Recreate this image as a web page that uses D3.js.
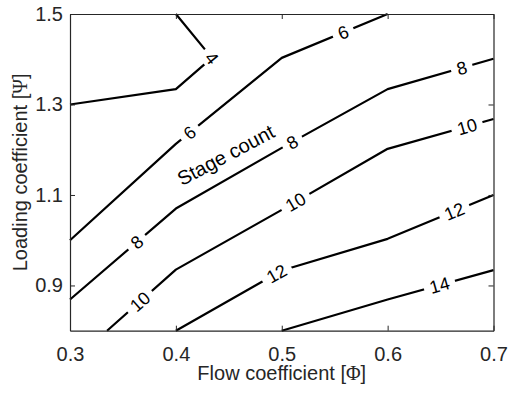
<!DOCTYPE html>
<html>
<head>
<meta charset="utf-8">
<script src="https://cdn.jsdelivr.net/npm/d3@7"></script>
<style>
  body { margin: 0; background: #fff; }
  svg text { font-family: "Liberation Sans", Arial, Helvetica, sans-serif; }
</style>
</head>
<body>
<svg id="chart" width="508" height="396"></svg>
<script>
// contour lines of stage count, [flow coefficient, loading coefficient]
const stage4  = [[0.4, 1.5], [0.434, 1.403], [0.4, 1.334], [0.3, 1.3]];
const stage6  = [[0.3, 1.0], [0.4, 1.213], [0.5, 1.403], [0.6, 1.5]];
const stage8  = [[0.3, 0.869], [0.4, 1.07], [0.5, 1.204], [0.6, 1.334], [0.7, 1.401]];
const stage10 = [[0.335, 0.8], [0.4, 0.935], [0.5, 1.067], [0.6, 1.202], [0.7, 1.268]];
const stage12 = [[0.4, 0.8], [0.5, 0.933], [0.6, 1.003], [0.7, 1.1]];
const stage14 = [[0.5, 0.8], [0.6, 0.869], [0.7, 0.934]];

const levels = [4, 6, 8, 10, 12, 14];
const contourLines = [stage4, stage6, stage8, stage10, stage12, stage14];
// flow coefficient where each inline label sits
const labelPhi = [[0.434], [0.413, 0.558], [0.363, 0.51, 0.67], [0.366, 0.513, 0.675], [0.495, 0.663], [0.649]];

const xTicks = [0.3, 0.4, 0.5, 0.6, 0.7];
const yTicks = [0.9, 1.1, 1.3, 1.5];

const lineColor = '#000';
const axisColor = '#262626';

const svg = d3.select("#chart");
const margin = { top: 14, right: 14.5, bottom: 65.3, left: 70 };
const width = +svg.attr("width") - margin.left - margin.right;
const height = +svg.attr("height") - margin.top - margin.bottom;
const g = svg.append("g").attr("transform", `translate(${margin.left},${margin.top})`);

const x = d3.scaleLinear().domain([0.3, 0.7]).range([0, width]);
const y = d3.scaleLinear().domain([0.8, 1.5]).range([height, 0]);

// mask that cuts the lines where the labels go
const mask = svg.append("defs").append("mask")
  .attr("id", "labelGaps")
  .attr("maskUnits", "userSpaceOnUse")
  .attr("x", -margin.left).attr("y", -margin.top)
  .attr("width", 508).attr("height", 396);
mask.append("rect")
  .attr("x", -margin.left).attr("y", -margin.top)
  .attr("width", 508).attr("height", 396)
  .attr("fill", "white");

const line = d3.line()
  .x(d => x(d[0]))
  .y(d => y(d[1]));

g.append("g")
  .attr("mask", "url(#labelGaps)")
  .selectAll("path")
  .data(contourLines)
  .enter()
  .append("path")
  .attr("fill", "none")
  .attr("stroke", lineColor)
  .attr("stroke-width", 2.2)
  .attr("stroke-linejoin", "round")
  .attr("d", line);

function pointAt(pts, phi) {
  for (let i = 0; i < pts.length - 1; i++) {
    const a = pts[i], b = pts[i + 1];
    const lo = Math.min(a[0], b[0]), hi = Math.max(a[0], b[0]);
    if (phi >= lo - 1e-9 && phi <= hi + 1e-9 && hi > lo) {
      const t = (phi - a[0]) / (b[0] - a[0]);
      const px = x(phi), py = y(a[1] + t * (b[1] - a[1]));
      let ang = Math.atan2(y(b[1]) - y(a[1]), x(b[0]) - x(a[0])) * 180 / Math.PI;
      if (ang > 90) ang -= 180;
      if (ang < -90) ang += 180;
      return { px, py, ang };
    }
  }
  return null;
}

const labels = [];
levels.forEach((lv, i) => {
  labelPhi[i].forEach(phi => {
    const p = pointAt(contourLines[i], phi);
    if (p) labels.push({ text: String(lv), ...p });
  });
});

const labelG = g.append("g");
labels.forEach(d => {
  const t = labelG.append("text")
    .attr("transform", `translate(${d.px},${d.py}) rotate(${d.ang})`)
    .attr("text-anchor", "middle")
    .attr("dy", "0.36em")
    .style("font-size", "18px")
    .style("fill", lineColor)
    .text(d.text);
  const w = t.node().getComputedTextLength();
  mask.append("rect")
    .attr("x", -w / 2 - 6).attr("y", -10)
    .attr("width", w + 12).attr("height", 20)
    .attr("transform", `translate(${d.px},${d.py}) rotate(${d.ang})`)
    .attr("fill", "black");
});

g.append("text")
  .attr("transform", `translate(${x(0.447)},${y(1.1885)}) rotate(-28)`)
  .attr("text-anchor", "middle")
  .attr("dy", "0.36em")
  .style("font-size", "20px")
  .style("fill", lineColor)
  .text("Stage count");

// axes, ticks pointing inward
const axisB = g.append("g")
  .attr("transform", `translate(0,${height})`)
  .call(d3.axisBottom(x).tickValues(xTicks).tickFormat(d3.format(".1f"))
    .tickSizeInner(-5).tickSizeOuter(0).tickPadding(16));
const axisL = g.append("g")
  .call(d3.axisLeft(y).tickValues(yTicks).tickFormat(d3.format(".1f"))
    .tickSizeInner(-5).tickSizeOuter(0).tickPadding(7));
const axisT = g.append("g")
  .call(d3.axisTop(x).tickValues(xTicks).tickFormat("")
    .tickSizeInner(-5).tickSizeOuter(0));
const axisR = g.append("g")
  .attr("transform", `translate(${width},0)`)
  .call(d3.axisRight(y).tickValues(yTicks).tickFormat("")
    .tickSizeInner(-5).tickSizeOuter(0));

[axisB, axisL, axisT, axisR].forEach(a => {
  a.select(".domain").attr("stroke", axisColor).attr("stroke-width", 1.2);
  a.selectAll(".tick line").attr("stroke", axisColor).attr("stroke-width", 1);
  a.selectAll("text")
    .style("font-size", "20px")
    .style("font-family", "'Liberation Sans', Arial, sans-serif")
    .attr("fill", axisColor);
});

const xLabel = g.append("text")
  .attr("x", width / 2)
  .attr("y", height + 49)
  .attr("text-anchor", "middle")
  .style("font-size", "20px")
  .style("fill", axisColor);
xLabel.append("tspan").text("Flow coefficient [");
xLabel.append("tspan").style("font-family", "'Liberation Serif', serif").text("Φ");
xLabel.append("tspan").text("]");

const yLabel = g.append("text")
  .attr("transform", `translate(${27 - margin.left},${height / 2}) rotate(-90)`)
  .attr("text-anchor", "middle")
  .style("font-size", "20px")
  .style("fill", axisColor);
yLabel.append("tspan").text("Loading coefficient [");
yLabel.append("tspan").style("font-family", "'Liberation Serif', serif").text("Ψ");
yLabel.append("tspan").text("]");
</script>
</body>
</html>
